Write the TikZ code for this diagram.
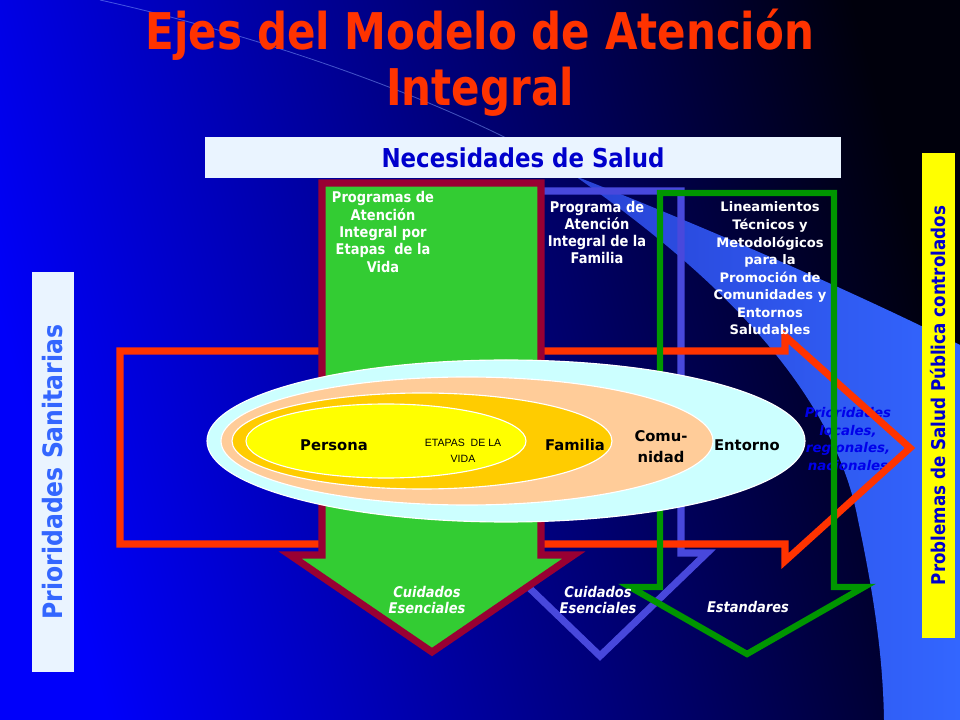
\documentclass[tikz,border=0pt]{standalone}
\usepackage{fontspec}
\setmainfont{DejaVu Sans}
\newfontfamily\titlefont[FakeStretch=0.83]{DejaVu Sans}
\newfontfamily\tahoma[FakeStretch=0.88]{DejaVu Sans}
\newfontfamily\arial{Liberation Sans}

\definecolor{bgblue}{RGB}{0,0,250}
\definecolor{bgmid}{RGB}{0,0,185}
\definecolor{bgdark}{RGB}{0,0,12}
\definecolor{titlered}{RGB}{255,51,0}
\definecolor{boxwhite}{RGB}{234,244,255}
\definecolor{bandblue}{RGB}{51,102,255}
\definecolor{bandfade}{RGB}{40,66,212}
\definecolor{leafgreen}{RGB}{51,204,51}
\definecolor{wine}{RGB}{153,0,51}
\definecolor{famviolet}{RGB}{72,72,220}
\definecolor{stdgreen}{RGB}{0,150,0}
\definecolor{cyanlight}{RGB}{204,255,255}
\definecolor{peach}{RGB}{255,204,153}
\definecolor{gold}{RGB}{255,204,0}
\definecolor{lemon}{RGB}{255,255,0}
\definecolor{textblue}{RGB}{0,0,204}
\definecolor{localblue}{RGB}{0,0,235}

\begin{document}
\begin{tikzpicture}[x=0.025cm, y=-0.025cm,
    shaft/.style={line width=5pt, line join=miter},
    ring/.style={draw=white, line width=.8pt}]

        \useasboundingbox (0,0) rectangle (960,720);
        \shade[left color=bgblue, middle color=bgmid, right color=bgdark, shading angle=105] (0,0) rectangle (960,720);

        \draw[bandblue!60!white, opacity=.5, line width=.6pt] (100,0) .. controls (280,40) and (470,110) .. (575,176);
        \shade[left color=bandfade, middle color=bandblue, right color=bandblue]
          (575,176) .. controls (700,225) and (850,290) .. (960,345) -- (960,720) -- (884,720)
          .. controls (883,660) and (875,600) .. (858,520) .. controls (830,370) and (680,250) .. (575,176) -- cycle;

        \begin{scope}[every node/.style={text=localblue, align=center, font=\bfseries\itshape\fontsize{9.5}{12.6}\selectfont}]
          \node (1) at (848,439) {Prioridades\\locales,\\regionales,\\nacionales};
        \end{scope}

        \draw[famviolet, shaft] (520,191) -- (681,191) -- (681,553) -- (707,553) -- (600,656) -- (493,553) -- (520,553) -- cycle;
        \draw[titlered, shaft] (120,351) -- (785,351) -- (785,336) -- (910,448) -- (785,561) -- (785,544) -- (120,544) -- cycle;
        \draw[wine, fill=leafgreen, shaft] (322,183) -- (541,183) -- (541,555) -- (574,555) -- (432,652) -- (290,555) -- (322,555) -- cycle;
        \draw[stdgreen, shaft, line width=4.5pt] (660,193) -- (834,193) -- (834,587) -- (864,587) -- (747,654) -- (630,587) -- (660,587) -- cycle;

        \filldraw[fill=cyanlight, ring] (506,441) ellipse [x radius=299, y radius=81];
        \filldraw[fill=peach, ring] (467,441) ellipse [x radius=246, y radius=64];
        \filldraw[fill=gold, ring] (422,441) ellipse [x radius=190, y radius=48];
        \filldraw[fill=lemon, ring] (386,441) ellipse [x radius=140, y radius=37];

        \begin{scope}[every node/.style={text=titlered, anchor=base, font=\titlefont\bfseries\fontsize{36}{40}\selectfont}]
          \node (2) at (480,50)  {Ejes del Modelo de Atención};
          \node (3) at (480,106) {Integral};
        \end{scope}

        \begin{scope}[every node/.style={inner sep=0pt, font=\tahoma\bfseries}]
          \node[fill=boxwhite, text=textblue, minimum width=15.9cm, minimum height=1.025cm,
                font=\tahoma\bfseries\fontsize{18.5}{22}\selectfont] (4) at (523,157.5) {Necesidades de Salud};
          \node[fill=boxwhite, text=bandblue, rotate=90, minimum width=10cm, minimum height=1.05cm,
                font=\tahoma\bfseries\fontsize{19}{22}\selectfont] (5) at (53,472) {Prioridades Sanitarias};
          \node[fill=lemon, text=textblue, rotate=90, minimum width=12.125cm, minimum height=.825cm,
                font=\tahoma\bfseries\fontsize{13.5}{16}\selectfont] (6) at (938.5,395.5) {Problemas de Salud Pública controlados};
        \end{scope}

        \begin{scope}[every node/.style={text=white, align=center}]
          \node[font=\tahoma\bfseries\fontsize{10.5}{12.3}\selectfont] (7) at (383,232)
            {Programas de\\Atención\\Integral por\\Etapas\ \ de la\\Vida};
          \node[font=\tahoma\bfseries\fontsize{10.5}{12.3}\selectfont] (8) at (597,232.5)
            {Programa de\\Atención\\Integral de la\\Familia};
          \node[font=\bfseries\fontsize{9.3}{12.5}\selectfont] (9) at (770,268.5)
            {Lineamientos\\Técnicos y\\Metodológicos\\para la\\Promoción de\\Comunidades y\\Entornos\\Saludables};
        \end{scope}

        \begin{scope}[every node/.style={align=center, font=\bfseries\fontsize{10.5}{15}\selectfont}]
          \node (10) at (334,445) {Persona};
          \node[font=\arial\fontsize{7.5}{11}\selectfont] (11) at (463,451) {ETAPAS\ \ DE LA\\VIDA};
          \node (12) at (575,445) {Familia};
          \node (13) at (661,447) {Comu-\\nidad};
          \node (14) at (747,445) {Entorno};
        \end{scope}

        \begin{scope}[every node/.style={text=white, align=center, font=\tahoma\bfseries\itshape\fontsize{10.5}{11.5}\selectfont}]
          \node (15) at (427,600) {Cuidados\\Esenciales};
          \node (16) at (598,600) {Cuidados\\Esenciales};
          \node (17) at (748,607) {Estandares};
        \end{scope}

      \end{tikzpicture}
\end{document}
